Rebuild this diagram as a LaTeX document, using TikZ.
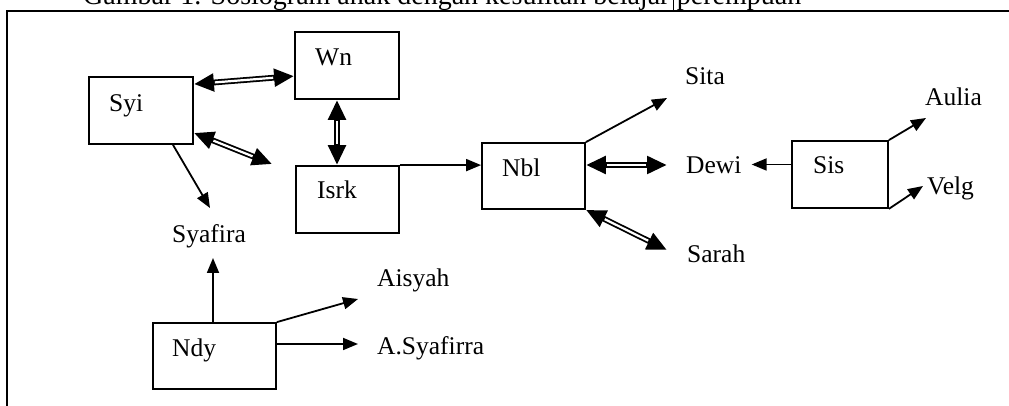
\documentclass[tikz,border=0pt]{standalone}
\usepackage{fontspec}
\setmainfont{Liberation Serif}
\usetikzlibrary{arrows.meta,calc}
\begin{document}
\begin{tikzpicture}[x=1pt,y=1pt,
  box/.style={draw=black, line width=1.8pt, inner sep=0pt, fill=none},
  lbl/.style={anchor=base west, inner sep=0pt, font=\fontsize{25.5}{30}\selectfont},
  ttl/.style={anchor=base west, inner sep=0pt, font=\fontsize{28}{32}\selectfont},
  one/.style={line width=1.8pt, -{Triangle[length=15pt,width=12pt]}},
  two/.style={line width=5.8pt, {Triangle[length=20pt,width=17pt]}-{Triangle[length=20pt,width=17pt]},
    postaction={draw=white, line width=2.2pt, arrows=-, shorten <=21pt, shorten >=21pt}},
  frame/.style={line width=1.8pt}]
\useasboundingbox (0,0) rectangle (1009,406);
\clip (0,0) rectangle (1009,406);
% title and frame
\node[ttl] (title) at (83,401) {Gambar 1. Sosiogram anak dengan kesulitan belajar};
\node[ttl] (titleb) at ([xshift=7]title.base east) {perempuan};
\coordinate (ftl) at (7,395);
\coordinate (ftr) at (1009,395);
\coordinate (fbl) at (7,0);
\draw[frame] (ftr) -- (ftl) -- (fbl);
\coordinate (tickt) at ([xshift=3.5]title.east |- 0,406);
\coordinate (tickb) at ([xshift=3.5]title.east |- ftl);
\draw[line width=1.2pt] (tickt) -- (tickb);
% boxes
\node[box, minimum width=104, minimum height=67] (wnbox) at (347,340.5) {};
\node[box, minimum width=104, minimum height=67] (syibox) at (141,295.5) {};
\node[box, minimum width=103, minimum height=67] (isrkbox) at (347.5,206.5) {};
\node[box, minimum width=103, minimum height=66] (nblbox) at (533.5,230) {};
\node[box, minimum width=96, minimum height=67] (sisbox) at (840,231.5) {};
\node[box, minimum width=123, minimum height=66] (ndybox) at (214.5,50) {};
% texts in boxes
\node[lbl] (wn) at (315,340) {Wn};
\node[lbl] (syi) at (109,294) {Syi};
\node[lbl] (isrk) at (317,207) {Isrk};
\node[lbl] (nbl) at (502,229) {Nbl};
\node[lbl] (sis) at (813,232) {Sis};
\node[lbl] (ndy) at (172,49) {Ndy};
% free labels
\node[lbl] (sita) at (685,321) {Sita};
\node[lbl] (dewi) at (686,232) {Dewi};
\node[lbl] (sarah) at (687,143) {Sarah};
\node[lbl] (aulia) at (925,300) {Aulia};
\node[lbl] (velg) at (927,211) {Velg};
\node[lbl] (syafira) at (172,163) {Syafira};
\node[lbl] (aisyah) at (377,119) {Aisyah};
\node[lbl] (asyafirra) at (377,51) {A.Syafirra};
% mutual choices
\draw[two] ([yshift=-8]syibox.north east) -- ([yshift=-45]wnbox.north west);
\draw[two] ([yshift=12]syibox.south east) -- ([xshift=-23,yshift=1]isrkbox.north west);
\draw[two] ([xshift=-10]wnbox.south) -- ([xshift=-10.5]isrkbox.north);
\draw[two] ([yshift=11]nblbox.east) -- ($(dewi.base west)+(-19,9)$);
\draw[two] (nblbox.south east) -- ($(sarah.base west)+(-20,13)$);
% one-way choices
\draw[one] ([xshift=32]syibox.south) -- ($(syafira.base west)+(38,35)$);
\draw[one] (isrkbox.north east) -- (isrkbox.north east -| nblbox.west);
\draw[one] (nblbox.north east) -- ($(sita.base west)+(-18,-13)$);
\draw[one] ([yshift=10]sisbox.west) -- ($(dewi.base east)+(10,9.5)$);
\draw[one] (sisbox.north east) -- ($(aulia.base west)+(1,-12)$);
\draw[one] (sisbox.south east) -- ($(velg.base west)+(-4,9)$);
\draw[one] ([xshift=-1.5]ndybox.north) -- ($(syafira.base west)+(41,-15)$);
\draw[one] (ndybox.north east) -- ($(aisyah.base west)+(-19,-12)$);
\draw[one] ([yshift=12]ndybox.east) -- ($(asyafirra.base west)+(-19,11)$);
\end{tikzpicture}
\end{document}
